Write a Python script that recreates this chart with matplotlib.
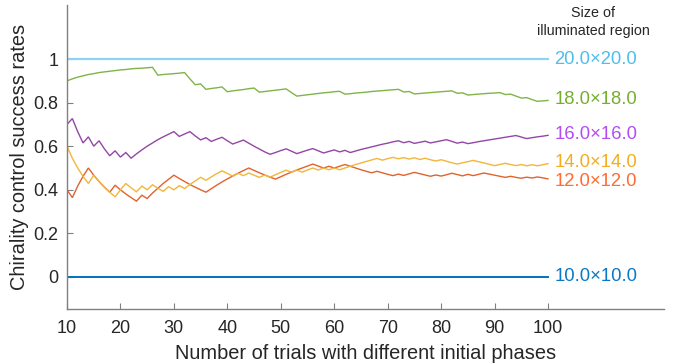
import matplotlib
matplotlib.use("Agg")
import matplotlib.pyplot as plt

plt.rcParams["font.family"] = ["Liberation Sans", "DejaVu Sans"]

# Number of trials
trials = list(range(10, 101))

# Cumulative chirality control success rate for each illuminated region size
rate_10 = [0.0] * 91
rate_20 = [1.0] * 91

rate_18 = [
    0.900, 0.909, 0.917, 0.923, 0.929, 0.933, 0.938, 0.941, 0.944, 0.947,
    0.950, 0.952, 0.955, 0.957, 0.958, 0.960, 0.962, 0.926, 0.929, 0.931,
    0.933, 0.935, 0.938, 0.909, 0.882, 0.886, 0.861, 0.865, 0.868, 0.872,
    0.850, 0.854, 0.857, 0.860, 0.864, 0.867, 0.848, 0.851, 0.854, 0.857,
    0.860, 0.863, 0.846, 0.830, 0.833, 0.836, 0.839, 0.842, 0.845, 0.847,
    0.850, 0.852, 0.839, 0.841, 0.844, 0.846, 0.848, 0.851, 0.853, 0.855,
    0.857, 0.859, 0.861, 0.849, 0.851, 0.840, 0.842, 0.844, 0.846, 0.848,
    0.850, 0.852, 0.854, 0.843, 0.845, 0.835, 0.837, 0.839, 0.841, 0.843,
    0.844, 0.846, 0.837, 0.839, 0.830, 0.821, 0.823, 0.814, 0.806, 0.808,
    0.810,
]

rate_16 = [
    0.700, 0.727, 0.667, 0.615, 0.643, 0.600, 0.625, 0.588, 0.556, 0.579,
    0.550, 0.571, 0.545, 0.565, 0.583, 0.600, 0.615, 0.630, 0.643, 0.655,
    0.667, 0.645, 0.656, 0.667, 0.647, 0.629, 0.639, 0.622, 0.632, 0.641,
    0.625, 0.610, 0.619, 0.628, 0.614, 0.600, 0.587, 0.574, 0.563, 0.571,
    0.580, 0.588, 0.577, 0.566, 0.574, 0.582, 0.589, 0.579, 0.569, 0.576,
    0.583, 0.574, 0.581, 0.571, 0.578, 0.585, 0.591, 0.597, 0.603, 0.609,
    0.614, 0.620, 0.625, 0.616, 0.622, 0.613, 0.618, 0.623, 0.615, 0.620,
    0.625, 0.630, 0.622, 0.614, 0.619, 0.612, 0.616, 0.621, 0.625, 0.629,
    0.633, 0.637, 0.641, 0.645, 0.649, 0.642, 0.635, 0.639, 0.643, 0.646,
    0.650,
]

rate_14 = [
    0.600, 0.545, 0.500, 0.462, 0.429, 0.467, 0.438, 0.412, 0.389, 0.368,
    0.400, 0.429, 0.409, 0.391, 0.417, 0.400, 0.423, 0.407, 0.393, 0.414,
    0.400, 0.419, 0.406, 0.424, 0.441, 0.457, 0.444, 0.459, 0.474, 0.487,
    0.475, 0.463, 0.476, 0.465, 0.477, 0.467, 0.457, 0.468, 0.458, 0.469,
    0.480, 0.490, 0.481, 0.491, 0.481, 0.491, 0.500, 0.491, 0.500, 0.492,
    0.500, 0.492, 0.500, 0.508, 0.516, 0.523, 0.530, 0.537, 0.544, 0.536,
    0.543, 0.549, 0.542, 0.548, 0.541, 0.547, 0.539, 0.545, 0.538, 0.532,
    0.538, 0.531, 0.524, 0.518, 0.524, 0.529, 0.535, 0.529, 0.523, 0.517,
    0.511, 0.516, 0.522, 0.516, 0.511, 0.516, 0.510, 0.515, 0.510, 0.515,
    0.520,
]

rate_12 = [
    0.400, 0.364, 0.417, 0.462, 0.500, 0.467, 0.438, 0.412, 0.389, 0.421,
    0.400, 0.381, 0.364, 0.348, 0.375, 0.360, 0.385, 0.407, 0.429, 0.448,
    0.467, 0.452, 0.438, 0.424, 0.412, 0.400, 0.389, 0.405, 0.421, 0.436,
    0.450, 0.463, 0.476, 0.488, 0.500, 0.489, 0.478, 0.468, 0.458, 0.449,
    0.460, 0.471, 0.481, 0.491, 0.500, 0.509, 0.518, 0.509, 0.500, 0.508,
    0.500, 0.508, 0.516, 0.508, 0.500, 0.492, 0.485, 0.478, 0.485, 0.478,
    0.471, 0.465, 0.472, 0.466, 0.473, 0.480, 0.474, 0.468, 0.462, 0.468,
    0.463, 0.469, 0.476, 0.470, 0.464, 0.471, 0.465, 0.471, 0.477, 0.472,
    0.467, 0.462, 0.457, 0.462, 0.457, 0.453, 0.458, 0.454, 0.459, 0.455,
    0.450,
]

region_labels = ["10.0\u00d710.0", "12.0\u00d712.0", "14.0\u00d714.0",
                 "16.0\u00d716.0", "18.0\u00d718.0", "20.0\u00d720.0"]
label_y = [0.0, 0.44, 0.525, 0.655, 0.815, 1.0]

series = [rate_10, rate_12, rate_14, rate_16, rate_18, rate_20]
line_colors = ["#0072BD", "#E2622E", "#F2B63A", "#9446A6", "#80B447", "#8ED3F0"]
line_widths = [1.4, 1.0, 1.0, 1.0, 1.0, 1.6]
text_colors = ["#0A78C8", "#FF6B33", "#F2AE1E", "#B24CF5", "#76AE2F", "#4DBEEE"]

fig = plt.figure(figsize=(6.74, 3.64), dpi=100)
ax = fig.add_axes([67 / 674, 1 - 309 / 364, (664 - 67) / 674, (309 - 5) / 364])

for vals, c, lw in zip(series, line_colors, line_widths):
    ax.plot(trials, vals, color=c, lw=lw, solid_joinstyle="miter")

for lab, y, c in zip(region_labels, label_y, text_colors):
    ax.text(101.2, y, lab, color=c, fontsize=13.3, ha="left", va="center")

ax.text(108.5, 1.17, "Size of\nilluminated region", color="#262626",
        fontsize=10.3, ha="center", va="center", linespacing=1.3,
        clip_on=False)

ax.set_xlim(10, 121.7)
ax.set_ylim(-0.147, 1.248)
ax.set_xticks(range(10, 101, 10))
ax.set_yticks([0, 0.2, 0.4, 0.6, 0.8, 1.0])
ax.set_yticklabels(["0", "0.2", "0.4", "0.6", "0.8", "1"])

for side in ["top", "right"]:
    ax.spines[side].set_visible(False)
for side in ["left", "bottom"]:
    ax.spines[side].set_color("#808080")
    ax.spines[side].set_linewidth(1.0)

ax.tick_params(direction="in", length=4, width=0.8, color="#808080",
               labelsize=13, labelcolor="#262626")
ax.tick_params(axis="x", pad=8)
ax.tick_params(axis="y", pad=6)

ax.set_xlabel("Number of trials with different initial phases",
              fontsize=14.4, color="#262626", labelpad=5)
ax.set_ylabel("Chirality control success rates",
              fontsize=14.4, color="#262626", labelpad=3)

fig.savefig("out.png", dpi=100)
